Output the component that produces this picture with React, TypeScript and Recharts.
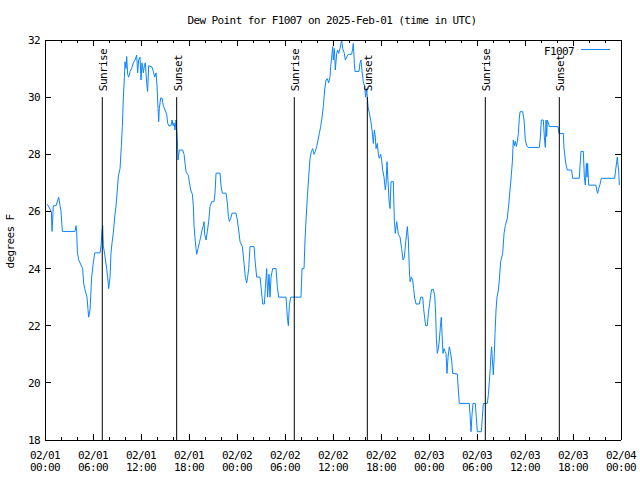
import { LineChart, Line, XAxis, YAxis, ReferenceLine } from "recharts"

// hours since 2025-02-01 00:00 UTC, and dew point readings in degrees F
const hours = [
  0.29, 0.79, 0.88, 1.04, 1.38, 1.71, 1.88, 2.0, 2.17, 3.75, 3.88, 3.96, 4.04, 4.21, 4.71, 4.83, 4.96, 5.25,
  5.38, 5.46, 5.63, 5.71, 5.83, 6.04, 6.21, 6.88, 7.0, 7.13, 7.21, 7.29, 7.46, 7.71, 7.83, 7.96, 8.13, 8.25,
  8.38, 8.54, 8.71, 8.88, 9.04, 9.17, 9.38, 9.54, 9.67, 9.79, 9.92, 10.0, 10.13, 10.21, 10.33, 10.46, 10.63,
  10.83, 11.04, 11.25, 11.46, 11.58, 11.71, 11.88, 12.0, 12.13, 12.29, 12.42, 12.54, 12.71, 12.83, 12.96,
  13.38, 13.54, 13.71, 13.88, 14.0, 14.13, 14.21, 14.29, 14.46, 14.63, 14.79, 15.0, 15.21, 15.33, 15.46,
  15.75, 15.88, 16.0, 16.13, 16.25, 16.38, 16.46, 16.54, 16.63, 16.79, 17.21, 17.38, 17.5, 17.63, 17.83,
  17.92, 18.04, 18.21, 18.42, 18.54, 18.63, 18.75, 18.88, 18.96, 19.13, 19.29, 19.46, 19.63, 19.79, 19.88,
  19.96, 20.13, 20.29, 20.46, 20.63, 20.83, 21.13, 21.25, 21.38, 21.88, 22.0, 22.17, 22.63, 22.79, 22.92,
  23.04, 23.21, 23.38, 23.88, 24.04, 24.21, 24.38, 24.67, 24.88, 25.04, 25.21, 25.33, 25.46, 25.63, 26.13,
  26.25, 26.46, 26.88, 27.0, 27.13, 27.21, 27.42, 27.54, 27.71, 27.83, 28.0, 28.13, 28.25, 28.46, 28.88,
  29.04, 29.21, 30.13, 30.29, 30.42, 30.54, 30.71, 32.0, 32.13, 32.38, 32.5, 32.63, 32.79, 32.96, 33.13,
  33.29, 33.46, 33.63, 33.79, 33.96, 34.13, 34.29, 34.46, 34.63, 34.79, 34.96, 35.13, 35.29, 35.46, 35.63,
  35.71, 35.88, 35.96, 36.04, 36.17, 36.29, 36.46, 36.58, 36.71, 36.88, 37.0, 37.08, 37.21, 37.42, 37.54,
  37.71, 37.92, 38.33, 38.46, 38.54, 38.67, 38.75, 39.25, 39.38, 39.5, 39.63, 39.79, 39.96, 40.08, 40.21,
  40.38, 40.54, 40.71, 40.88, 41.04, 41.17, 41.29, 41.38, 41.54, 41.67, 41.79, 41.96, 42.08, 42.21, 42.38,
  42.54, 42.63, 42.75, 42.88, 43.0, 43.13, 43.25, 43.54, 43.67, 43.79, 43.96, 44.17, 44.38, 44.58, 44.75,
  44.92, 45.08, 45.21, 45.29, 45.42, 45.54, 45.63, 45.79, 45.96, 46.08, 46.21, 46.38, 46.79, 46.96, 47.21,
  47.33, 47.46, 47.58, 47.79, 47.92, 48.08, 48.21, 48.33, 48.54, 48.71, 48.83, 48.92, 49.04, 49.17, 49.29,
  49.42, 49.54, 49.63, 49.75, 49.88, 50.0, 50.13, 50.25, 50.38, 50.54, 50.67, 50.83, 50.96, 51.54, 51.67,
  51.79, 53.04, 53.17, 53.25, 53.38, 53.5, 53.79, 53.92, 54.04, 54.54, 54.67, 54.79, 55.29, 55.42, 55.54,
  55.67, 55.75, 55.83, 55.92, 56.04, 56.17, 56.25, 56.38, 56.5, 56.67, 56.79, 56.96, 57.21, 57.38, 57.54,
  57.79, 57.96, 58.13, 58.29, 58.42, 58.54, 58.67, 58.79, 58.92, 59.04, 59.17, 59.29, 59.38, 59.71, 59.88,
  60.04, 60.21, 60.38, 61.79, 61.92, 62.04, 62.29, 62.42, 62.54, 62.63, 62.71, 62.79, 62.92, 63.04, 64.13,
  64.25, 64.79, 64.88, 65.0, 65.13, 65.29, 65.83, 65.96, 66.79, 66.88, 67.0, 67.29, 67.42, 67.54, 67.67,
  67.75, 67.83, 67.96, 68.88, 68.96, 69.08, 69.21, 69.38, 69.54, 71.21, 71.33, 71.46, 71.54, 71.63, 71.71,
  71.79,
]

const dewF = [
  26.25, 26.0, 25.3, 26.2, 26.2, 26.5, 26.2, 26.0, 25.3, 25.3, 25.5, 25.3, 24.6, 24.3, 24.0, 23.5, 23.3, 23.0,
  22.55, 22.3, 22.55, 23.0, 23.7, 24.2, 24.55, 24.55, 24.8, 25.3, 25.5, 24.8, 24.5, 24.0, 23.7, 23.3, 23.7, 24.55,
  24.9, 25.25, 25.8, 26.2, 26.75, 27.24, 27.5, 28.27, 28.97, 29.97, 30.68, 31.24, 31.0, 31.42, 30.8, 30.7, 30.9,
  31.0, 31.2, 31.3, 31.47, 30.85, 31.3, 31.4, 30.6, 31.2, 30.85, 31.1, 31.2, 30.5, 30.2, 31.1,
  31.05, 30.9, 30.7, 30.85, 30.4, 29.6, 29.14, 29.6, 29.97, 29.97, 29.7, 29.55, 29.4, 29.1, 29.0,
  29.0, 29.2, 29.0, 29.1, 28.85, 29.2, 28.85, 28.5, 27.8, 28.15, 28.15, 28.0, 27.7, 27.4, 27.3,
  27.27, 27.04, 26.75, 26.6, 26.2, 25.5, 25.06, 24.7, 24.5, 24.7, 24.9, 25.1, 25.35, 25.5, 25.64,
  25.2, 25.0, 25.3, 25.64, 26.17, 26.34, 26.34, 26.64, 27.34, 27.34, 26.9, 26.64, 26.64, 26.3, 25.82,
  25.65, 25.75, 25.94, 25.94, 25.7, 25.35, 24.94, 24.77, 24.18, 23.7, 23.5, 23.7, 24.0, 24.77, 24.77,
  24.3, 23.7, 23.7, 23.37, 23.0, 22.76, 22.76, 23.3, 24.0, 23.0, 23.8, 23.0, 23.7, 24.0, 24.0,
  23.37, 23.0, 23.0, 22.3, 22.0, 22.7, 23.0, 23.0, 24.0, 24.0, 25.0, 25.7, 26.5, 27.2, 27.86,
  28.09, 28.2, 28.0, 28.1, 28.27, 28.5, 28.73, 28.97, 29.3, 29.67, 30.25, 30.6, 30.65, 30.5, 30.72,
  31.07, 31.53, 31.77, 31.3, 31.7, 30.95, 31.53, 31.65, 31.53, 31.7, 31.88, 32.0, 31.7, 31.53, 31.3,
  31.4, 31.5, 31.5, 31.7, 31.88, 31.18, 30.9, 30.9, 31.2, 31.3, 30.9, 30.54, 30.37, 30.0, 30.3,
  29.67, 29.44, 29.2, 28.85, 28.38, 28.85, 28.6, 28.2, 28.38, 28.0, 27.86, 28.0, 27.8, 27.45, 27.2,
  26.75, 26.95, 27.74, 27.04, 26.4, 26.1, 27.04, 27.04, 25.64, 25.23, 25.64, 25.2, 25.1, 24.7, 24.3,
  24.4, 24.9, 25.25, 25.47, 25.0, 24.0, 23.54, 23.7, 23.6, 23.3, 22.97, 22.76, 22.76, 23.0, 23.0,
  22.6, 22.26, 22.0, 22.0, 22.44, 22.78, 23.07, 23.27, 23.27, 23.07, 22.44, 21.56, 21.03, 21.2, 21.5,
  21.96, 22.3, 21.7, 21.03, 21.2, 21.1, 21.03, 20.33, 20.9, 21.26, 21.1, 20.8, 20.33, 20.31, 19.75,
  19.28, 19.28, 18.7, 18.29, 18.9, 19.28, 19.28, 18.76, 18.29, 18.29, 18.8, 19.28, 19.28, 19.58, 20.04,
  20.57, 21.03, 21.26, 20.8, 20.28, 21.03, 21.73, 22.55, 23.0, 23.25, 23.6, 24.24, 24.53, 25.23, 25.5,
  25.76, 26.22, 26.75, 27.27, 27.74, 28.5, 28.3, 28.45, 28.27, 28.45, 28.73, 29.26, 29.49, 29.49, 29.2,
  28.5, 28.3, 28.24, 28.24, 28.6, 29.2, 29.2, 28.6, 28.24, 29.2, 28.62, 29.2, 29.1, 28.97, 28.97,
  28.73, 28.73, 28.2, 27.9, 27.63, 27.45, 27.45, 27.16, 27.16, 27.6, 28.1, 28.1, 27.2, 26.92, 27.68,
  27.2, 27.68, 26.92, 26.92, 26.75, 26.63, 26.8, 26.95, 27.16, 27.16, 27.45, 27.74, 27.9, 27.6, 27.45,
  26.92,
]

// sunrise / sunset markers
const sunHours = [7.16, 16.46, 31.16, 40.29, 55.04, 64.29]
const sunLabels = ["Sunrise", "Sunset", "Sunrise", "Sunset", "Sunrise", "Sunset"]

// axis ticks
const xTicks = [0, 2, 4, 6, 8, 10, 12, 14, 16, 18, 20, 22, 24, 26, 28, 30, 32, 34, 36, 38, 40, 42, 44, 46, 48, 50, 52, 54, 56, 58, 60, 62, 64, 66, 68, 70, 72]
const majorHours = [0, 6, 12, 18, 24, 30, 36, 42, 48, 54, 60, 66, 72]
const dayLabels = ["02/01", "02/01", "02/01", "02/01", "02/02", "02/02", "02/02", "02/02", "02/03", "02/03", "02/03", "02/03", "02/04"]
const timeLabels = ["00:00", "06:00", "12:00", "18:00", "00:00", "06:00", "12:00", "18:00", "00:00", "06:00", "12:00", "18:00", "00:00"]
const yTicks = [18, 20, 22, 24, 26, 28, 30, 32]

const data = hours.map((h, i) => ({ h, dew: dewF[i] }))

const W = 640
const H = 480
const LEFT = 45
const RIGHT = 621
const TOP = 40
const BOTTOM = 440
const BLUE = "#0a84ff"
const txt = {
  fontFamily: '"DejaVu Sans Mono", monospace',
  fontSize: 11,
  letterSpacing: -0.6,
  fill: "#000",
}

const BottomTick = ({ x, payload }: any) => {
  const i = majorHours.indexOf(payload.value)
  return (
    <g>
      <line x1={x} x2={x} y1={BOTTOM} y2={BOTTOM - (i >= 0 ? 6 : 3)} stroke="#000" shapeRendering="crispEdges" />
      {i >= 0 && (
        <>
          <text x={x} y={BOTTOM + 18.5} textAnchor="middle" {...txt}>{dayLabels[i]}</text>
          <text x={x} y={BOTTOM + 30.5} textAnchor="middle" {...txt}>{timeLabels[i]}</text>
        </>
      )}
    </g>
  )
}

const TopTick = ({ x, payload }: any) => {
  const major = majorHours.includes(payload.value)
  return <line x1={x} x2={x} y1={TOP} y2={TOP + (major ? 6 : 3)} stroke="#000" shapeRendering="crispEdges" />
}

const LeftTick = ({ y, payload }: any) => (
  <g>
    <line x1={LEFT} x2={LEFT + 6} y1={y} y2={y} stroke="#000" shapeRendering="crispEdges" />
    <text x={40} y={y + 4} textAnchor="end" {...txt}>{payload.value}</text>
  </g>
)

const RightTick = ({ y }: any) => (
  <line x1={RIGHT} x2={RIGHT - 6} y1={y} y2={y} stroke="#000" shapeRendering="crispEdges" />
)

const SunLabel = ({ viewBox, text }: any) => {
  const x = viewBox.x + 5
  const y = viewBox.y - 6
  return (
    <text x={0} y={0} transform={`translate(${x},${y}) rotate(-90)`} textAnchor="start" {...txt}>
      {text}
    </text>
  )
}

export default function App() {
  return (
    <div style={{ position: "absolute", left: 0, top: 0, width: W, height: H, background: "#fff" }}>
      <LineChart width={W} height={H} data={data} margin={{ top: 0, right: 0, bottom: 0, left: 0 }}>
        <XAxis
          xAxisId="b"
          dataKey="h"
          type="number"
          domain={[0, 72]}
          ticks={xTicks}
          interval={0}
          height={40}
          tickSize={0}
          tickMargin={0}
          tickLine={false}
          axisLine={{ stroke: "#000", shapeRendering: "crispEdges" }}
          tick={<BottomTick />}
          allowDataOverflow
        />
        <XAxis
          xAxisId="t"
          dataKey="h"
          orientation="top"
          type="number"
          domain={[0, 72]}
          ticks={xTicks}
          interval={0}
          height={40}
          tickSize={0}
          tickMargin={0}
          tickLine={false}
          axisLine={{ stroke: "#000", shapeRendering: "crispEdges" }}
          tick={<TopTick />}
          allowDataOverflow
        />
        <YAxis
          yAxisId="l"
          type="number"
          domain={[18, 32]}
          ticks={yTicks}
          interval={0}
          width={45}
          tickSize={0}
          tickMargin={0}
          tickLine={false}
          axisLine={{ stroke: "#000", shapeRendering: "crispEdges" }}
          tick={<LeftTick />}
          allowDataOverflow
        />
        <YAxis
          yAxisId="r"
          dataKey="dew"
          orientation="right"
          type="number"
          domain={[18, 32]}
          ticks={yTicks}
          interval={0}
          width={19}
          tickSize={0}
          tickMargin={0}
          tickLine={false}
          axisLine={{ stroke: "#000", shapeRendering: "crispEdges" }}
          tick={<RightTick />}
          allowDataOverflow
        />
        <Line
          xAxisId="b"
          yAxisId="l"
          type="linear"
          dataKey="dew"
          stroke={BLUE}
          strokeWidth={1}
          dot={false}
          isAnimationActive={false}
        />
        {sunHours.map((h, i) => (
          <ReferenceLine
            key={i}
            xAxisId="b"
            yAxisId="l"
            segment={[{ x: h, y: 18 }, { x: h, y: 30 }]}
            stroke="#000"
            strokeWidth={1}
            label={<SunLabel text={sunLabels[i]} />}
          />
        ))}
      </LineChart>
      <svg width={W} height={H} style={{ position: "absolute", left: 0, top: 0, pointerEvents: "none" }}>
        <text x={332} y={24} textAnchor="middle" {...txt}>
          Dew Point for F1007 on 2025-Feb-01 (time in UTC)
        </text>
        <text x={0} y={0} transform="translate(14,241.5) rotate(-90)" textAnchor="middle" {...txt}>
          degrees F
        </text>
        <text x={574} y={54.5} textAnchor="end" {...txt}>F1007</text>
        <line x1={581} x2={610} y1={49.5} y2={49.5} stroke={BLUE} strokeWidth={1} />
      </svg>
    </div>
  )
}
